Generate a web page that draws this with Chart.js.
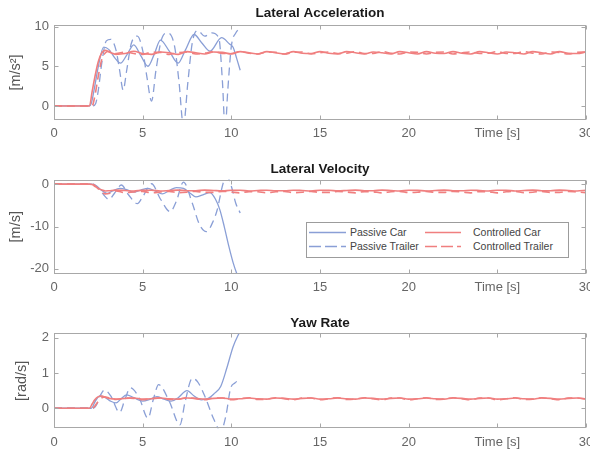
<!DOCTYPE html>
<html><head><meta charset="utf-8">
<script src="https://cdn.jsdelivr.net/npm/chart.js@4.4.1/dist/chart.umd.min.js"></script>
<style>
html,body{margin:0;padding:0;background:#fff;overflow:hidden;width:590px;height:450px;position:relative;}
canvas{position:absolute;left:0;}
#legend{position:absolute;left:306px;top:222px;width:261px;height:34px;border:1px solid #9c9c9c;background:#fff;font-family:'Liberation Sans',Arial,sans-serif;font-size:10.5px;color:#444;}
#legend .li{position:absolute;height:12px;line-height:12px;white-space:nowrap;}
#legend svg{position:absolute;top:0;}
#legend span{position:absolute;top:0;}
</style></head><body>
<canvas id="c1" width="590" height="150" style="top:0px"></canvas>
<canvas id="c2" width="590" height="150" style="top:150px"></canvas>
<canvas id="c3" width="590" height="150" style="top:300px"></canvas>
<div id="legend"></div>
<script>
// ---------- tick labels ----------
const xTicks = [0, 5, 10, 15, 20, 25, 30];
const xLabelAt25 = 'Time [s]';
const accTicks = [0, 5, 10];
const velTicks = [-20, -10, 0];
const yawTicks = [0, 1, 2];
const seriesNames = ['Passive Car', 'Passive Trailer', 'Controlled Car', 'Controlled Trailer'];
const panelTitles = ['Lateral Acceleration', 'Lateral Velocity', 'Yaw Rate'];
const yLabels = ['[m/s\u00B2]', '[m/s]', '[rad/s]'];

// ---------- Lateral acceleration ----------
const accPassiveCarT = [0, 2.0, 2.1, 2.3, 2.5, 2.8, 3.1, 3.45, 3.75, 4.1, 4.5, 4.9, 5.3, 5.65, 6.0, 6.5, 7.0, 7.4, 7.9, 8.35, 8.8, 9.45, 9.9, 10.1, 10.3, 10.5];
const accPassiveCar  = [0, 0, 0.3, 2.5, 5.0, 7.4, 7.1, 6.0, 5.4, 6.4, 7.7, 6.3, 5.0, 6.5, 8.3, 6.9, 5.4, 7.0, 9.0, 7.9, 6.9, 8.6, 7.8, 7.4, 6.0, 4.5];
const accPassiveTrailerT = [0, 2.2, 2.35, 2.5, 2.7, 2.95, 3.2, 3.5, 3.7, 3.9, 4.1, 4.35, 4.7, 5.0, 5.25, 5.5, 5.75, 6.05, 6.4, 6.8, 7.05, 7.3, 7.55, 7.8, 8.1, 8.5, 8.9, 9.3, 9.5, 9.65, 9.8, 10.0, 10.25, 10.55];
const accPassiveTrailer  = [0, 0, 0.3, 2.0, 5.5, 8.2, 8.4, 7.0, 4.5, 2.0, 4.5, 7.8, 8.8, 7.0, 3.5, 0.6, 4.5, 8.3, 9.2, 7.5, 3.0, -2.5, 3.0, 8.0, 9.5, 8.8, 9.2, 8.5, 3.0, -3.0, 2.0, 7.5, 9.2, 9.8];

// ---------- Lateral velocity ----------
const velPassiveCarT = [0, 2.15, 2.4, 2.7, 3.0, 3.3, 3.7, 4.1, 4.5, 4.9, 5.3, 5.7, 6.1, 6.5, 6.9, 7.3, 7.7, 8.0, 8.4, 8.8, 9.1, 9.35, 9.6, 9.85, 10.1, 10.3, 10.55];
const velPassiveCar  = [0, 0, -0.6, -1.5, -2.2, -1.6, -1.0, -1.3, -1.9, -1.4, -1.0, -1.6, -2.3, -1.5, -0.8, -1.0, -2.2, -3.0, -2.5, -2.0, -3.5, -6.0, -10.0, -14.5, -18.5, -21.0, -23.5];
const velPassiveTrailerT = [0, 2.2, 2.5, 2.8, 3.1, 3.4, 3.8, 4.2, 4.7, 5.0, 5.5, 6.0, 6.55, 6.9, 7.3, 7.8, 8.2, 8.6, 9.0, 9.2, 9.55, 9.75, 10.0, 10.25, 10.5];
const velPassiveTrailer  = [0, 0, -0.8, -2.5, -3.6, -2.2, -0.2, -2.5, -4.6, -3.0, 0.1, -3.5, -6.5, -4.0, 0.5, -4.5, -9.5, -11.2, -8.5, -6.1, 0.4, 1.8, -0.5, -4.5, -6.8];

// ---------- Yaw rate ----------
const yawPassiveCarT = [0, 2.1, 2.35, 2.6, 2.9, 3.2, 3.5, 3.8, 4.1, 4.5, 5.0, 5.4, 5.8, 6.2, 6.6, 7.0, 7.5, 7.9, 8.3, 8.7, 9.0, 9.4, 9.75, 10.1, 10.5];
const yawPassiveCar  = [0, 0, 0.22, 0.35, 0.3, 0.2, 0.15, 0.28, 0.38, 0.3, 0.2, 0.25, 0.33, 0.26, 0.2, 0.3, 0.5, 0.35, 0.24, 0.28, 0.4, 0.62, 1.15, 1.75, 2.2];
const yawPassiveTrailerT = [0, 2.2, 2.4, 2.6, 2.85, 3.2, 3.7, 4.0, 4.3, 4.8, 5.3, 5.6, 5.9, 6.5, 7.1, 7.4, 7.8, 8.1, 8.5, 9.0, 9.4, 9.7, 9.95, 10.2, 10.5];
const yawPassiveTrailer  = [0, 0, 0.1, 0.35, 0.52, 0.35, -0.12, 0.25, 0.58, 0.3, -0.28, 0.25, 0.67, 0.2, -0.47, 0.2, 0.85, 0.75, 0.35, -0.3, -0.65, -0.2, 0.55, 0.72, 0.8];

// ---------- Controlled (common time base) ----------
const ctrlT = [0, 2.0, 2.15, 2.3, 2.5, 2.7, 2.9, 3.1,
  3.5, 4.0, 4.5, 5.0, 5.5, 6.0, 6.5, 7.0, 7.5, 8.0,
  8.5, 9.0, 9.5, 10.0, 10.5, 11.0, 11.5, 12.0, 12.5, 13.0,
  13.5, 14.0, 14.5, 15.0, 15.5, 16.0, 16.5, 17.0, 17.5, 18.0,
  18.5, 19.0, 19.5, 20.0, 20.5, 21.0, 21.5, 22.0, 22.5, 23.0,
  23.5, 24.0, 24.5, 25.0, 25.5, 26.0, 26.5, 27.0, 27.5, 28.0,
  28.5, 29.0, 29.5, 30.0];
const accCtrlCar = [0, 0, 1.8, 3.6, 5.6, 6.7, 7.0, 6.8,
  6.5, 6.6, 6.9, 6.6, 6.5, 6.8, 6.7, 6.5, 6.85, 6.7,
  6.55, 6.8, 6.75, 6.55, 6.85, 6.7, 6.55, 6.85, 6.7, 6.55,
  6.85, 6.65, 6.6, 6.85, 6.65, 6.55, 6.85, 6.7, 6.55, 6.8,
  6.7, 6.55, 6.85, 6.7, 6.55, 6.85, 6.65, 6.6, 6.85, 6.65,
  6.55, 6.85, 6.7, 6.55, 6.8, 6.7, 6.55, 6.85, 6.7, 6.55,
  6.85, 6.65, 6.6, 6.8];
const accCtrlTrailer = [0, 0, 0, 1.2, 3.8, 5.9, 6.7, 6.9,
  6.6, 6.8, 6.6, 6.5, 6.75, 6.75, 6.5, 6.7, 6.8, 6.55,
  6.65, 6.85, 6.6, 6.6, 6.85, 6.65, 6.55, 6.8, 6.75, 6.55,
  6.75, 6.8, 6.55, 6.7, 6.8, 6.6, 6.65, 6.85, 6.6, 6.6,
  6.85, 6.65, 6.55, 6.8, 6.75, 6.55, 6.75, 6.8, 6.55, 6.7,
  6.8, 6.6, 6.65, 6.85, 6.6, 6.6, 6.85, 6.65, 6.55, 6.8,
  6.75, 6.55, 6.75, 6.8];
const velCtrlCar = [0, 0, -0.1, -0.5, -1.0, -1.4, -1.6, -1.55,
  -1.4, -1.5, -1.6, -1.45, -1.45, -1.6, -1.5, -1.4, -1.55, -1.55,
  -1.4, -1.5, -1.58, -1.45, -1.45, -1.6, -1.5, -1.42, -1.55, -1.55,
  -1.42, -1.5, -1.6, -1.45, -1.45, -1.58, -1.5, -1.4, -1.55, -1.55,
  -1.4, -1.5, -1.6, -1.45, -1.47, -1.6, -1.5, -1.4, -1.55, -1.55,
  -1.42, -1.5, -1.6, -1.45, -1.45, -1.6, -1.5, -1.4, -1.55, -1.55,
  -1.4, -1.5, -1.6, -1.45];
const velCtrlTrailer = [0, 0, 0, -0.3, -1.1, -1.9, -2.3, -2.2,
  -1.6, -2.0, -1.85, -1.7, -2.05, -1.85, -1.7, -2.0, -1.9, -1.7,
  -1.95, -1.95, -1.7, -1.85, -2.05, -1.75, -1.8, -2.05, -1.8, -1.7,
  -2.0, -1.9, -1.7, -1.95, -1.95, -1.7, -1.85, -2.05, -1.75, -1.8,
  -2.05, -1.8, -1.7, -2.0, -1.9, -1.7, -1.95, -1.95, -1.7, -1.85,
  -2.05, -1.75, -1.8, -2.05, -1.8, -1.7, -2.0, -1.9, -1.7, -1.95,
  -1.95, -1.7, -1.85, -2.0];
const yawCtrlCar = [0, 0, 0.12, 0.24, 0.33, 0.35, 0.31, 0.28,
  0.26, 0.28, 0.29, 0.26, 0.27, 0.29, 0.27, 0.26, 0.29, 0.28,
  0.26, 0.28, 0.29, 0.26, 0.27, 0.29, 0.27, 0.26, 0.29, 0.28,
  0.26, 0.28, 0.29, 0.26, 0.27, 0.29, 0.27, 0.26, 0.29, 0.28,
  0.26, 0.28, 0.29, 0.26, 0.27, 0.29, 0.27, 0.26, 0.29, 0.28,
  0.26, 0.28, 0.29, 0.26, 0.27, 0.29, 0.27, 0.26, 0.29, 0.28,
  0.26, 0.28, 0.29, 0.27];
const yawCtrlTrailer = [0, 0, 0, 0.06, 0.2, 0.3, 0.32, 0.3,
  0.25, 0.29, 0.28, 0.24, 0.28, 0.3, 0.25, 0.26, 0.3, 0.27,
  0.24, 0.29, 0.29, 0.24, 0.27, 0.3, 0.25, 0.26, 0.3, 0.27,
  0.24, 0.29, 0.29, 0.24, 0.27, 0.3, 0.25, 0.26, 0.3, 0.27,
  0.24, 0.29, 0.29, 0.24, 0.27, 0.3, 0.25, 0.26, 0.3, 0.27,
  0.24, 0.29, 0.29, 0.24, 0.27, 0.3, 0.25, 0.26, 0.3, 0.27,
  0.24, 0.29, 0.29, 0.26];

// ---------- styling ----------
const FONT = "'Liberation Sans', Arial, Helvetica, sans-serif";
Chart.defaults.font.family = FONT;
const BLUE = '#8a9fd6';
const RED = '#f07f7f';
const DASH = [8, 5];
const styles = [
  {color: BLUE, dash: [], width: 1.3, order: 2},
  {color: BLUE, dash: DASH, width: 1.3, order: 1},
  {color: RED, dash: [], width: 1.6, order: 0},
  {color: RED, dash: DASH, width: 1.6, order: 0}
];

function pts(t, v) { return t.map((x, i) => ({x: x, y: v[i]})); }

const boxPlugin = {
  id: 'boxTicks',
  afterDatasetsDraw(chart) {
    const {ctx, chartArea: a, scales: {x, y}} = chart;
    ctx.save();
    ctx.strokeStyle = '#a8a8a8';
    ctx.lineWidth = 1;
    const L = Math.round(a.left) + 0.5, R = Math.round(a.right) - 0.5;
    const T = Math.round(a.top) + 0.5, B = Math.round(a.bottom) - 0.5;
    ctx.strokeRect(L, T, R - L, B - T);
    const len = 4;
    ctx.beginPath();
    x.ticks.forEach(t => {
      const px = Math.round(x.getPixelForValue(t.value)) + 0.5;
      ctx.moveTo(px, B); ctx.lineTo(px, B - len);
      ctx.moveTo(px, T); ctx.lineTo(px, T + len);
    });
    y.ticks.forEach(t => {
      const py = Math.round(y.getPixelForValue(t.value)) + 0.5;
      ctx.moveTo(L, py); ctx.lineTo(L + len, py);
      ctx.moveTo(R, py); ctx.lineTo(R - len, py);
    });
    ctx.stroke();
    ctx.restore();
  }
};

function makeChart(id, cfg) {
  const datasets = cfg.series.map((s, i) => ({
    label: seriesNames[i],
    data: pts(s[0], s[1]),
    borderColor: styles[i].color,
    borderDash: styles[i].dash,
    borderWidth: styles[i].width,
    order: styles[i].order,
    pointRadius: 0,
    fill: false,
    cubicInterpolationMode: 'monotone'
  }));
  return new Chart(document.getElementById(id), {
    type: 'line',
    data: {datasets},
    options: {
      responsive: false,
      animation: false,
      events: [],
      layout: {padding: {left: 0, right: 4, top: 0, bottom: 0}},
      plugins: {
        legend: {display: false},
        tooltip: {enabled: false},
        title: {
          display: true, text: cfg.title, color: '#1a1a1a', fullSize: false,
          font: {size: 13.5, weight: 'bold', lineHeight: 1},
          padding: {top: cfg.titleTop, bottom: cfg.titleBottom}
        }
      },
      scales: {
        x: {
          type: 'linear', min: 0, max: 30,
          afterBuildTicks: s => { s.ticks = xTicks.map(v => ({value: v})); },
          afterFit: s => { s.height = cfg.xH; s.paddingLeft = 0; s.paddingRight = 0; },
          grid: {display: false, drawTicks: false},
          border: {display: false},
          ticks: {color: '#666', font: {size: 13}, padding: 6, maxRotation: 0, autoSkip: false,
            callback: v => v === 25 ? xLabelAt25 : String(v)}
        },
        y: {
          type: 'linear', min: cfg.yMin, max: cfg.yMax,
          afterBuildTicks: s => { s.ticks = cfg.yTicks.map(v => ({value: v})); },
          afterFit: s => { s.width = 54; s.paddingTop = 0; s.paddingBottom = 0; },
          grid: {display: false, drawTicks: false},
          border: {display: false},
          ticks: {color: '#666', font: {size: 13}, padding: 5},
          title: {display: true, text: cfg.yLabel, color: '#555', font: {size: 14.5, lineHeight: 1},
            padding: {top: cfg.yTitlePad, bottom: 0}}
        }
      }
    },
    plugins: [boxPlugin]
  });
}

makeChart('c1', {
  title: panelTitles[0], titleTop: 6.25, titleBottom: 5.25, xH: 30,
  yMin: -1.77, yMax: 10.2, yTicks: accTicks, yLabel: yLabels[0], yTitlePad: 9,
  series: [[accPassiveCarT, accPassiveCar], [accPassiveTrailerT, accPassiveTrailer], [ctrlT, accCtrlCar], [ctrlT, accCtrlTrailer]]
});
makeChart('c2', {
  title: panelTitles[1], titleTop: 12.5, titleBottom: 3.5, xH: 26,
  yMin: -21.2, yMax: 1.1, yTicks: velTicks, yLabel: yLabels[1], yTitlePad: 9,
  series: [[velPassiveCarT, velPassiveCar], [velPassiveTrailerT, velPassiveTrailer], [ctrlT, velCtrlCar], [ctrlT, velCtrlTrailer]]
});
makeChart('c3', {
  title: panelTitles[2], titleTop: 16.25, titleBottom: 3.55, xH: 21.7,
  yMin: -0.57, yMax: 2.13, yTicks: yawTicks, yLabel: yLabels[2], yTitlePad: 15,
  series: [[yawPassiveCarT, yawPassiveCar], [yawPassiveTrailerT, yawPassiveTrailer], [ctrlT, yawCtrlCar], [ctrlT, yawCtrlTrailer]]
});

// ---------- legend (HTML, two columns) ----------
const legendPos = [
  {left: 2, top: 3, lineW: 37, textX: 41},
  {left: 2, top: 17, lineW: 37, textX: 41},
  {left: 118, top: 3, lineW: 36, textX: 48},
  {left: 118, top: 17, lineW: 36, textX: 48}
];
const lg = document.getElementById('legend');
seriesNames.forEach((name, i) => {
  const p = legendPos[i], st = styles[i];
  const d = document.createElement('div');
  d.className = 'li';
  d.style.left = p.left + 'px';
  d.style.top = p.top + 'px';
  d.innerHTML = '<svg width="' + (p.lineW + 2) + '" height="12"><line x1="0" y1="6.5" x2="' + p.lineW +
    '" y2="6.5" stroke="' + st.color + '" stroke-width="' + st.width + '"' +
    (st.dash.length ? ' stroke-dasharray="12,4"' : '') + '/></svg><span style="left:' + p.textX + 'px">' + name + '</span>';
  lg.appendChild(d);
});
</script>
</body></html>
